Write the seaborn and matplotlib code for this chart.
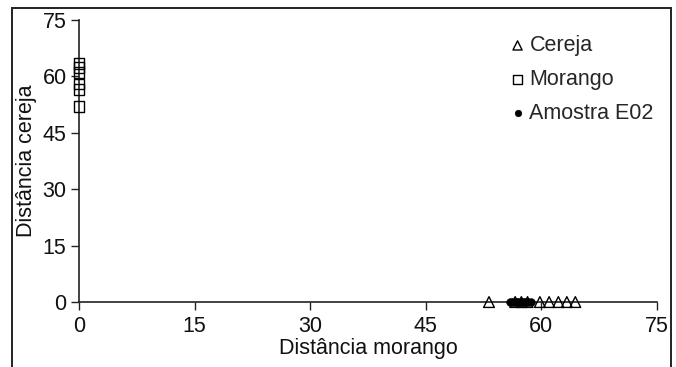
import matplotlib
matplotlib.use("Agg")
import matplotlib.pyplot as plt
import seaborn as sns
import pandas as pd
from matplotlib.patches import Rectangle

# Distances of each sample to the two reference groups
cereja_morango = [53.2, 56.6, 57.4, 58.2, 59.8, 61.0, 62.2, 63.3, 64.4]
cereja_cereja = [0, 0, 0, 0, 0, 0, 0, 0, 0]

morango_morango = [0, 0, 0, 0, 0, 0]
morango_cereja = [63.5, 62.3, 61.0, 58.0, 56.6, 52.0]

amostra_morango = [55.9, 56.2, 56.5, 56.8, 57.0, 57.3, 57.5, 57.8, 58.0, 58.3, 58.6]
amostra_cereja = [0, 0, 0, 0, 0, 0, 0, 0, 0, 0, 0]

ticks = [0, 15, 30, 45, 60, 75]

df = pd.concat([
    pd.DataFrame({"morango": cereja_morango, "cereja": cereja_cereja, "grupo": "Cereja"}),
    pd.DataFrame({"morango": morango_morango, "cereja": morango_cereja, "grupo": "Morango"}),
    pd.DataFrame({"morango": amostra_morango, "cereja": amostra_cereja, "grupo": "Amostra E02"}),
], ignore_index=True)

sns.set_theme(style="ticks")
plt.rcParams["font.family"] = ["Liberation Sans", "DejaVu Sans"]

FS = 15.5
fig = plt.figure(figsize=(6.76, 3.67), dpi=100)
ax = fig.add_axes([0.1169, 0.177, 0.855, 0.7685])

sub = df[df.grupo == "Cereja"]
sns.scatterplot(data=sub, x="morango", y="cereja", marker="^", s=60,
                facecolor="none", edgecolor="black", linewidth=1.0,
                label="Cereja", ax=ax, clip_on=False, zorder=3)
sub = df[df.grupo == "Morango"]
sns.scatterplot(data=sub, x="morango", y="cereja", marker="s", s=60,
                facecolor="none", edgecolor="black", linewidth=1.0,
                label="Morango", ax=ax, clip_on=False, zorder=3)
sub = df[df.grupo == "Amostra E02"]
sns.scatterplot(data=sub, x="morango", y="cereja", marker="o", s=30,
                color="black", edgecolor="black", linewidth=0.5,
                label="Amostra E02", ax=ax, clip_on=False, zorder=4)

ax.set_xlim(0, 75)
ax.set_ylim(0, 75)
ax.set_xticks(ticks)
ax.set_yticks(ticks)
ax.tick_params(axis="both", direction="out", length=6, width=1.0,
               color="#222222", labelsize=FS, labelcolor="#111111", pad=3)
ax.tick_params(axis="x", pad=4)
for side in ("top", "right"):
    ax.spines[side].set_visible(False)
for side in ("left", "bottom"):
    ax.spines[side].set_color("#222222")
    ax.spines[side].set_linewidth(1.2)

ax.set_xlabel("Distância morango", fontsize=FS, color="#111111", labelpad=1)
ax.set_ylabel("Distância cereja", fontsize=FS, color="#111111", labelpad=4)

leg = ax.legend(loc="upper left", bbox_to_anchor=(0.714, 1.0), frameon=False,
                fontsize=FS, handletextpad=0.05, labelspacing=0.6,
                markerscale=0.85, handlelength=1.0, borderaxespad=0.3)

# outer frame around the chart
fig.patches.append(Rectangle((12 / 676, -0.1), (671 - 12) / 676, 1.1 - 8 / 367,
                             transform=fig.transFigure, fill=False,
                             edgecolor="#222222", linewidth=1.4))

fig.savefig("out.png", dpi=100)
